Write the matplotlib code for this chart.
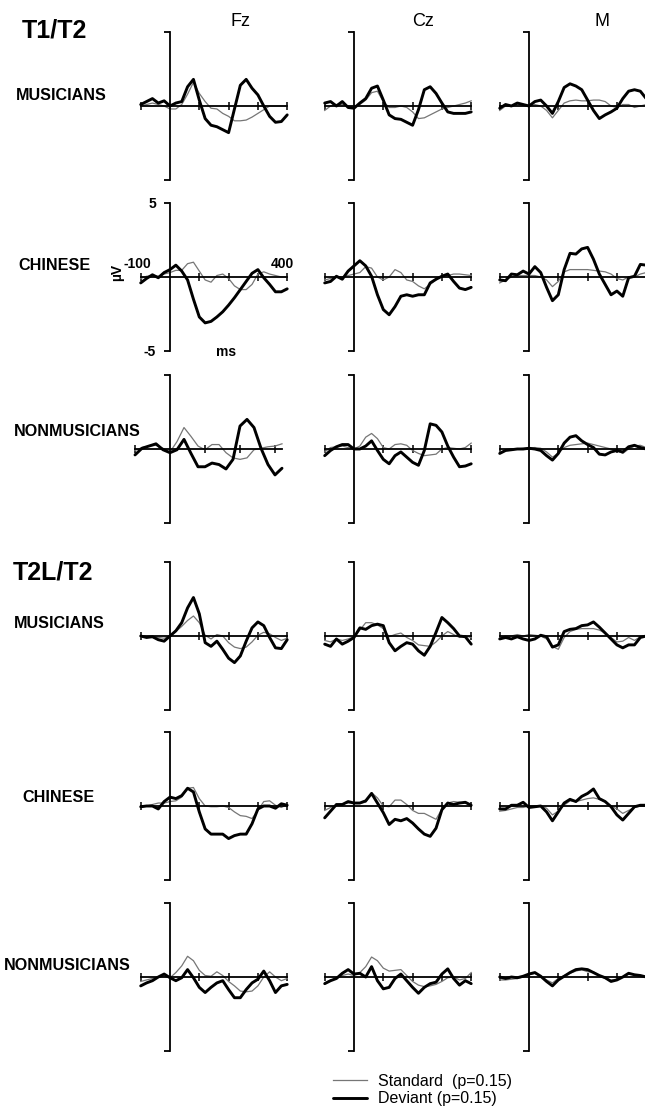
import matplotlib.pyplot as plt

plt.rcParams['font.family'] = ['Liberation Sans', 'DejaVu Sans']

# Tiempos de muestreo (ms)
tiempo = [-100, -80, -60, -40, -20, 0, 20, 40, 60, 80, 100, 120, 140,
          160, 180, 200, 220, 240, 260, 280, 300, 320, 340, 360, 380, 400]
tiempo_corto = [-100, -80, -60, -40, -20, 0, 20, 40, 60, 80, 100, 120,
                140, 160, 180, 200, 220, 240, 260, 280, 300, 320]

# Voltajes (uV): std = estandar, dev = desviante
# T1/T2 - musicos
t1_mus_fz_std = [0, 0.1, 0.2, 0.1, 0.0, -0.2, -0.2, 0.1, 0.8, 1.6, 0.85, 0.3, -0.15,
                 -0.2, -0.5, -0.7, -1.0, -1.0, -0.95, -0.75, -0.5, -0.25, 0, 0, 0, 0]
t1_mus_fz_dev = [0.1, 0.3, 0.5, 0.2, 0.35, 0.0, 0.2, 0.3, 1.3, 1.8, 0.4, -0.85, -1.3,
                 -1.4, -1.6, -1.8, -0.2, 1.4, 1.8, 1.2, 0.75, 0.0, -0.7, -1.1, -1.05, -0.6]
t1_mus_cz_std = [-0.3, 0, 0.1, 0.1, 0, -0.1, 0.1, 0.4, 0.9, 1.0, 0.3, -0.1, -0.1,
                 0.0, -0.1, -0.4, -0.85, -0.8, -0.6, -0.4, -0.2, -0.1, 0.0, 0.1, 0.2, 0.35]
t1_mus_cz_dev = [0.2, 0.3, 0, 0.3, -0.1, -0.15, 0.2, 0.5, 1.2, 1.35, 0.4, -0.6, -0.85,
                 -0.9, -1.1, -1.3, -0.25, 1.1, 1.3, 0.85, 0.2, -0.4, -0.5, -0.5, -0.5, -0.4]
t1_mus_m_std = [-0.3, 0, 0, 0.1, 0.1, 0, 0.1, 0, -0.3, -0.8, -0.3, 0.2, 0.35,
                0.4, 0.35, 0.35, 0.4, 0.4, 0.3, 0.0, -0.1, 0.1, 0.1, -0.1, 0, 0.1]
t1_mus_m_dev = [-0.15, 0.1, 0, 0.2, 0.1, 0, 0.3, 0.4, 0, -0.5, 0.3, 1.25, 1.5,
                1.35, 1.1, 0.4, -0.3, -0.85, -0.6, -0.4, -0.15, 0.5, 1.0, 1.1, 1.0, 0.5]

# T1/T2 - chinos
t1_chi_fz_std = [-0.1, 0.05, 0.1, 0.05, 0.2, 0.3, 0.45, 0.45, 0.9, 1.0, 0.4, -0.2, -0.35,
                 0.1, 0.2, -0.1, -0.6, -0.85, -0.85, -0.5, 0.2, 0.35, 0.2, 0.1, 0.0, 0.0]
t1_chi_fz_dev = [-0.4, -0.1, 0.15, -0.05, 0.3, 0.5, 0.8, 0.4, -0.2, -1.5, -2.7, -3.1, -3.0,
                 -2.7, -2.35, -1.9, -1.4, -0.85, -0.3, 0.25, 0.5, -0.05, -0.5, -1.0, -1.0, -0.8]
t1_chi_cz_std = [-0.2, -0.1, 0, 0, 0.1, 0.2, 0.3, 0.7, 0.6, 0, -0.2, 0, 0.5,
                 0.3, -0.2, -0.3, -0.6, -0.8, -0.5, -0.2, 0.1, 0.1, 0.2, 0.2, 0.15, 0.1]
t1_chi_cz_dev = [-0.4, -0.3, 0.05, -0.15, 0.4, 0.75, 1.1, 0.75, 0.05, -1.2, -2.2, -2.55, -2.0,
                 -1.3, -1.2, -1.3, -1.2, -1.2, -0.4, -0.15, 0.05, 0.2, -0.3, -0.75, -0.85, -0.7]
t1_chi_m_std = [-0.4, -0.2, 0, 0.1, 0.1, 0.1, 0.1, 0, -0.2, -0.65, -0.3, 0.35, 0.5,
                0.5, 0.5, 0.5, 0.45, 0.4, 0.35, 0.2, -0.1, -0.2, 0, 0, 0.2, 0.3]
t1_chi_m_dev = [-0.2, -0.25, 0.2, 0.15, 0.4, 0.2, 0.7, 0.3, -0.7, -1.6, -1.2, 0.5, 1.6,
                1.55, 1.9, 2.0, 1.2, 0.2, -0.5, -1.2, -0.95, -1.3, -0.05, 0.05, 0.85, 0.8]

# T1/T2 - no musicos (Fz con epoca mas corta)
t1_non_fz_std = [-0.1, 0.1, 0.2, 0.25, 0.05, -0.2, 0.5, 1.45, 0.85, 0.2, -0.05,
                 0.3, 0.3, -0.25, -0.6, -0.7, -0.6, -0.05, 0.05, 0.15, 0.2, 0.35]
t1_non_fz_dev = [-0.4, 0.05, 0.2, 0.35, -0.05, -0.25, -0.05, 0.65, -0.3, -1.2, -1.2,
                 -0.95, -1.05, -1.35, -0.7, 1.55, 2.0, 1.45, 0.05, -1.05, -1.75, -1.3]
t1_non_cz_std = [-0.2, 0.1, 0.15, 0.2, 0.1, 0, 0.2, 0.8, 1.05, 0.7, 0.1, 0, 0.3,
                 0.35, 0.25, -0.1, -0.3, -0.45, -0.4, -0.35, 0, 0.1, 0.05, 0, 0.1, 0.4]
t1_non_cz_dev = [-0.45, -0.1, 0.15, 0.3, 0.3, 0, 0, 0.2, 0.55, -0.1, -0.7, -1.0, -0.45,
                 -0.2, -0.55, -0.9, -1.1, -0.1, 1.7, 1.6, 1.15, 0.2, -0.55, -1.2, -1.15, -1.0]
t1_non_m_std = [-0.2, -0.1, 0, 0, 0.05, 0.05, 0.1, 0.05, -0.2, -0.55, -0.3, 0.1, 0.25,
                0.3, 0.35, 0.4, 0.3, 0.2, 0.1, 0, -0.1, -0.3, 0, 0.2, 0.25, 0.1]
t1_non_m_dev = [-0.3, -0.1, -0.05, 0, 0, 0.05, 0, -0.1, -0.45, -0.75, -0.3, 0.4, 0.8,
                0.9, 0.55, 0.3, 0.1, -0.35, -0.4, -0.2, -0.1, -0.2, 0.15, 0.25, 0.1, 0]

# T2L/T2 - musicos
t2_mus_fz_std = [-0.05, -0.05, -0.05, -0.1, -0.15, 0, 0.3, 0.65, 1.05, 1.35, 0.9, 0.05, -0.2,
                 0.1, 0, -0.45, -0.75, -0.85, -0.75, -0.4, 0.05, 0.25, 0.15, -0.1, -0.3, -0.15]
t2_mus_fz_dev = [0, -0.1, -0.05, -0.25, -0.35, 0, 0.35, 0.9, 1.9, 2.6, 1.5, -0.45, -0.7,
                 -0.35, -0.9, -1.5, -1.8, -1.35, -0.35, 0.55, 0.95, 0.7, -0.1, -0.8, -0.85, -0.25]
t2_mus_cz_std = [-0.3, -0.4, -0.2, -0.3, -0.2, -0.05, 0.4, 0.9, 0.9, 0.75, 0.5, -0.05, 0.1,
                 0.2, -0.1, -0.3, -0.6, -0.65, -0.7, -0.4, 0, 0.3, 0.1, -0.1, 0, -0.1]
t2_mus_cz_dev = [-0.55, -0.7, -0.2, -0.55, -0.35, -0.1, 0.55, 0.45, 0.7, 0.8, 0.7, -0.45, -1.0,
                 -0.7, -0.45, -0.55, -1.0, -1.3, -0.7, 0.25, 1.25, 0.9, 0.5, 0, -0.05, -0.55]
t2_mus_m_std = [-0.1, 0, 0, 0.1, 0, 0.1, 0.05, 0, -0.2, -0.7, -0.9, -0.1, 0.3,
                0.45, 0.5, 0.5, 0.5, 0.4, 0.2, -0.1, -0.4, -0.35, -0.1, -0.3, -0.05, 0]
t2_mus_m_dev = [-0.2, -0.1, -0.2, -0.05, -0.2, -0.3, -0.2, 0.05, -0.05, -0.75, -0.6, 0.3, 0.45,
                0.5, 0.7, 0.75, 0.95, 0.6, 0.2, -0.2, -0.6, -0.8, -0.6, -0.6, -0.1, 0]

# T2L/T2 - chinos
t2_chi_fz_std = [-0.1, 0, 0.1, 0.2, 0.2, 0.3, 0.35, 0.6, 1.2, 1.25, 0.5, 0, -0.05,
                 -0.05, 0, -0.1, -0.4, -0.65, -0.7, -0.85, -0.3, 0.3, 0.35, 0.05, -0.1, 0.1]
t2_chi_fz_dev = [-0.05, 0, 0, -0.2, 0.3, 0.6, 0.5, 0.7, 1.2, 0.95, -0.4, -1.55, -1.9,
                 -1.9, -1.9, -2.2, -2.0, -1.9, -1.9, -1.2, -0.2, 0, 0, -0.15, 0.15, 0.05]
t2_chi_cz_std = [-0.3, -0.1, 0.05, 0.15, 0.2, 0.2, 0.2, 0.25, 0.9, 0.55, 0, -0.05, 0.4,
                 0.4, 0.1, -0.3, -0.5, -0.5, -0.7, -0.9, -0.2, 0.2, 0.3, 0.25, 0.2, 0.1]
t2_chi_cz_dev = [-0.8, -0.35, 0.1, 0.1, 0.3, 0.2, 0.2, 0.35, 0.85, 0.2, -0.45, -1.25, -0.9,
                 -1.0, -0.85, -1.15, -1.55, -1.9, -2.05, -1.5, -0.25, 0.2, 0.1, 0.2, 0.25, 0.05]
t2_chi_m_std = [-0.35, -0.3, -0.2, -0.1, -0.1, 0, 0, 0, -0.15, -0.6, -0.35, 0.05, 0.35,
                0.3, 0.4, 0.5, 0.55, 0.45, 0.3, 0, -0.2, -0.5, -0.3, -0.1, 0, 0.05]
t2_chi_m_dev = [-0.2, -0.2, 0.05, 0.05, 0.25, -0.1, -0.05, 0, -0.4, -1.0, -0.4, 0.2, 0.45,
                0.3, 0.65, 0.85, 1.15, 0.5, 0.3, -0.05, -0.6, -0.95, -0.5, -0.05, 0.05, 0.05]

# T2L/T2 - no musicos
t2_non_fz_std = [-0.3, -0.2, -0.1, 0, 0.05, -0.05, 0.3, 0.75, 1.4, 1.1, 0.45, 0.1, 0.05,
                 0.35, 0.1, -0.3, -0.6, -0.95, -1.0, -0.95, -0.6, 0, 0.35, 0, -0.25, -0.1]
t2_non_fz_dev = [-0.6, -0.4, -0.25, 0, 0.2, -0.05, -0.25, -0.05, 0.5, -0.05, -0.7, -1.05, -0.7,
                 -0.4, -0.25, -0.85, -1.4, -1.4, -0.85, -0.4, -0.15, 0.4, -0.25, -1.05, -0.6, -0.5]
t2_non_cz_std = [-0.4, -0.2, -0.1, 0.1, 0.2, 0.1, 0.3, 0.7, 1.35, 1.1, 0.6, 0.4, 0.45,
                 0.5, 0.1, -0.3, -0.55, -0.65, -0.6, -0.5, -0.3, -0.05, 0, -0.2, -0.1, 0.3]
t2_non_cz_dev = [-0.45, -0.25, -0.1, 0.25, 0.5, 0.2, 0.25, 0, 0.7, -0.25, -0.8, -0.7, -0.1,
                 0.2, -0.25, -0.7, -1.1, -0.7, -0.45, -0.35, 0.2, 0.55, -0.1, -0.55, -0.25, -0.45]
t2_non_m_std = [-0.2, -0.2, -0.15, -0.1, 0, 0.15, 0.25, 0.05, -0.2, -0.4, -0.1, 0.1, 0.25,
                0.4, 0.5, 0.35, 0.35, 0.1, -0.1, -0.2, -0.15, 0, 0.2, 0.15, 0.05, 0]
t2_non_m_dev = [0, -0.1, 0, -0.05, 0.05, 0.2, 0.3, 0.05, -0.3, -0.6, -0.2, 0.05, 0.3,
                0.5, 0.55, 0.5, 0.3, 0.1, -0.05, -0.3, -0.2, 0, 0.25, 0.15, 0.1, 0]

electrodos = ['Fz', 'Cz', 'M']
grupos = ['MUSICIANS', 'CHINESE', 'NONMUSICIANS', 'MUSICIANS', 'CHINESE', 'NONMUSICIANS']

filas = [
    [(t1_mus_fz_std, t1_mus_fz_dev), (t1_mus_cz_std, t1_mus_cz_dev), (t1_mus_m_std, t1_mus_m_dev)],
    [(t1_chi_fz_std, t1_chi_fz_dev), (t1_chi_cz_std, t1_chi_cz_dev), (t1_chi_m_std, t1_chi_m_dev)],
    [(t1_non_fz_std, t1_non_fz_dev), (t1_non_cz_std, t1_non_cz_dev), (t1_non_m_std, t1_non_m_dev)],
    [(t2_mus_fz_std, t2_mus_fz_dev), (t2_mus_cz_std, t2_mus_cz_dev), (t2_mus_m_std, t2_mus_m_dev)],
    [(t2_chi_fz_std, t2_chi_fz_dev), (t2_chi_cz_std, t2_chi_cz_dev), (t2_chi_m_std, t2_chi_m_dev)],
    [(t2_non_fz_std, t2_non_fz_dev), (t2_non_cz_std, t2_non_cz_dev), (t2_non_m_std, t2_non_m_dev)],
]

# Geometria (pixeles de la figura)
W, H = 645, 1111
col_cero = [170, 354, 529]
fila_base = [106, 277, 449, 636, 806, 977]
px_ms = 0.293
px_uv = 14.8
etiquetas_filas = [(16, 96), (18, 266), (14, 432), (14, 623), (22, 797), (4, 966)]

fig = plt.figure(figsize=(W / 100, H / 100), dpi=100)
fig.patch.set_facecolor('white')


def crear_panel(x0, y0, s, t_fin):
    xmin, xmax = -130, t_fin + 40
    ymin, ymax = -5.8, 5.8
    left = (x0 + xmin * s) / W
    width = (xmax - xmin) * s / W
    height = (ymax - ymin) * px_uv / H
    bottom = 1 - (y0 + (-ymin) * px_uv) / H
    ax = fig.add_axes([left, bottom, width, height])
    ax.set_xlim(xmin, xmax)
    ax.set_ylim(ymin, ymax)
    ax.patch.set_visible(False)
    for lado in ['top', 'right']:
        ax.spines[lado].set_visible(False)
    ax.spines['left'].set_position(('data', 0))
    ax.spines['left'].set_bounds(-5, 5)
    ax.spines['bottom'].set_position(('data', 0))
    ax.spines['bottom'].set_bounds(-100, t_fin)
    for lado in ['left', 'bottom']:
        ax.spines[lado].set_linewidth(1.3)
    ax.set_yticks([-5, 5])
    ax.set_xticks([t for t in [-100, 100, 200, 300, 400] if t <= t_fin])
    ax.tick_params(axis='y', direction='out', length=4, width=1.3, labelleft=False)
    ax.tick_params(axis='x', direction='inout', length=6, width=1.1, labelbottom=False)
    return ax


lineas = None
for i, fila in enumerate(filas):
    for j, (std, dev) in enumerate(fila):
        if i == 2 and j == 0:
            t, s, t_fin = tiempo_corto, 0.35, 320
        else:
            t, s, t_fin = tiempo, px_ms, 400
        ax = crear_panel(col_cero[j], fila_base[i], s, t_fin)
        l1, = ax.plot(t, std, color='#767676', lw=0.9, clip_on=False,
                      solid_joinstyle='round')
        l2, = ax.plot(t, dev, color='black', lw=2.1, clip_on=False,
                      solid_joinstyle='round', solid_capstyle='round')
        if lineas is None:
            lineas = (l1, l2)
        if i == 1 and j == 0:
            ax.set_yticks([-5, 5])
            ax.set_yticklabels(['-5', '5'], fontweight='bold', fontsize=10)
            ax.tick_params(axis='y', labelleft=True, pad=6)
            ax.text(-110, 0.9, '-100', fontsize=10, fontweight='bold', ha='center', va='center')
            ax.text(385, 0.9, '400', fontsize=10, fontweight='bold', ha='center', va='center')
            ax.text(190, -5.1, 'ms', fontsize=10, fontweight='bold', ha='center', va='center')
            ax.text(-182, 0.3, 'µV', fontsize=10, fontweight='bold', ha='center', va='center',
                    rotation=90)

# Textos
fig.text(22 / W, 1 - 30 / H, 'T1/T2', fontsize=18, fontweight='bold', ha='left', va='center')
fig.text(13 / W, 1 - 572 / H, 'T2L/T2', fontsize=18, fontweight='bold', ha='left', va='center')
for nombre, (x, y) in zip(grupos, etiquetas_filas):
    fig.text(x / W, 1 - y / H, nombre, fontsize=11.6, fontweight='bold', ha='left', va='center')
for nombre, x in zip(electrodos, [241, 423, 602]):
    fig.text(x / W, 1 - 22 / H, nombre, fontsize=13, ha='center', va='center')

fig.legend(lineas, ['Standard  (p=0.15)', 'Deviant (p=0.15)'], loc='upper left',
           bbox_to_anchor=(333 / W, 1 - 1074 / H), frameon=False, fontsize=11.5,
           handlelength=2.1, handletextpad=0.7, labelspacing=0.15, borderpad=0,
           borderaxespad=0)

fig.savefig('out.png', dpi=100)
